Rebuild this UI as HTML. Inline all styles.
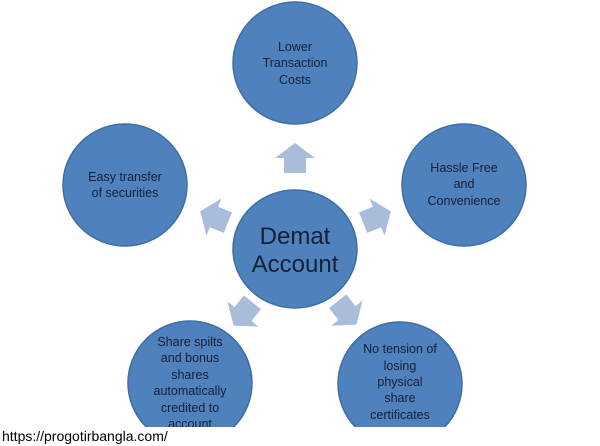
<!DOCTYPE html>
<html><head><meta charset="utf-8"><style>
html,body{margin:0;padding:0;background:#fff;width:600px;height:446px;overflow:hidden}
svg text{font-family:"Liberation Sans",sans-serif;fill:#14213a}
</style></head><body>
<svg width="600" height="446" viewBox="0 0 600 446" xmlns="http://www.w3.org/2000/svg">
<defs><polygon id="ar" points="0,-15 20,0 11,0 11,15 -11,15 -11,0 -20,0" fill="#a9bcd9"/></defs>
<g fill="#4f81bd" stroke="#3e6ea6" stroke-width="1.5">
<ellipse cx="295" cy="63" rx="62" ry="61"/>
<ellipse cx="125" cy="185" rx="62" ry="61"/>
<ellipse cx="464" cy="185" rx="62" ry="61"/>
<ellipse cx="295" cy="249" rx="62" ry="59"/>
<ellipse cx="190" cy="383" rx="62" ry="62"/>
<ellipse cx="400" cy="384" rx="62" ry="62"/>
</g>
<use href="#ar" transform="translate(295,158)"/>
<use href="#ar" transform="translate(214,217) rotate(-68)"/>
<use href="#ar" transform="translate(377,217) rotate(68)"/>
<use href="#ar" transform="translate(243,314) rotate(-141)"/>
<use href="#ar" transform="translate(347,313) rotate(141)"/>
<g font-size="12.5" text-anchor="middle">
<text x="295" y="51">Lower</text><text x="295" y="67">Transaction</text><text x="295" y="84">Costs</text>
<text x="125" y="181">Easy transfer</text><text x="125" y="197">of securities</text>
<text x="464" y="172">Hassle Free</text><text x="464" y="188">and</text><text x="464" y="205">Convenience</text>
<text x="190" y="346">Share spilts</text><text x="190" y="362">and bonus</text><text x="190" y="379">shares</text><text x="190" y="395">automatically</text><text x="190" y="412">credited to</text><text x="190" y="428">account</text>
<text x="400" y="353">No tension of</text><text x="400" y="370">losing</text><text x="400" y="386">physical</text><text x="400" y="402">share</text><text x="400" y="419">certificates</text>
</g>
<text x="295" y="244" font-size="24" text-anchor="middle">Demat</text>
<text x="295" y="272" font-size="24" text-anchor="middle">Account</text>
<rect x="0" y="427" width="600" height="19" fill="#fff"/>
<text x="2" y="441" font-size="14" style="fill:#000">https://progotirbangla.com/</text>
</svg>
</body></html>
